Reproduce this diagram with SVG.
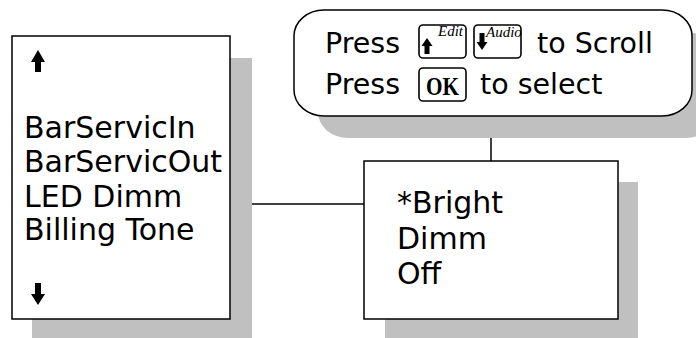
<svg xmlns="http://www.w3.org/2000/svg" width="696" height="338" viewBox="0 0 696 338">
<style>
.shadow{fill:#c0c0c0;stroke:none}
.box{fill:#fff;stroke:#000;stroke-width:1.5}
.key{fill:#fff;stroke:#000;stroke-width:1.6}
.t{font-family:"DejaVu Sans","Verdana",sans-serif;font-size:30px;fill:#000}
.tb{font-family:"DejaVu Sans","Verdana",sans-serif;font-size:28.5px;fill:#000}
.sup{font-family:"Liberation Serif","Times New Roman",serif;font-style:italic;font-size:15px;fill:#000}
.ok{font-family:"Liberation Serif","Times New Roman",serif;font-weight:bold;font-size:25px;fill:#000}
.conn{stroke:#000;stroke-width:1.5;fill:none}
.arr{fill:#000}
</style>
<rect x="0" y="0" width="696" height="338" fill="#fff"/>
<g id="connectors">
<line class="conn" x1="230" y1="204" x2="364" y2="204"/>
<line class="conn" x1="491" y1="116" x2="491" y2="161"/>
</g>
<g id="menu-list">
<rect class="shadow" x="32" y="58" width="220" height="280"/>
<rect class="box" x="12" y="36" width="218" height="283"/>
<polygon class="arr" points="38,50 45,62 41,62 41,72 35,72 35,62 31,62"/>
<text class="t" x="24" y="138">BarServicIn</text>
<text class="t" x="24" y="172">BarServicOut</text>
<text class="t" x="24" y="207">LED Dimm</text>
<text class="t" x="24" y="240">Billing Tone</text>
<polygon class="arr" points="38,305 45,294 41,294 41,283 35,283 35,294 31,294"/>
</g>
<g id="hint-bubble">
<rect class="shadow" x="318" y="32" width="398" height="106" rx="30" ry="26"/>
<rect class="box" x="294" y="10" width="398" height="106" rx="30" ry="26"/>
<text class="tb" x="325" y="53">Press</text>
<rect class="key" x="419" y="25" width="47" height="33" rx="4"/>
<polygon class="arr" points="427,38 432.5,46 429.5,46 429.5,54 424.5,54 424.5,46 421.5,46"/>
<text class="sup" x="438" y="36">Edit</text>
<rect class="key" x="474" y="25" width="47" height="33" rx="4"/>
<polygon class="arr" points="482,50 487.5,42 484.5,42 484.5,33 479.5,33 479.5,42 476.5,42"/>
<text class="sup" x="486" y="37">Audio</text>
<text class="tb" x="537" y="53">to Scroll</text>
<text class="tb" x="325" y="94">Press</text>
<rect class="key" x="419" y="68" width="47" height="33" rx="4"/>
<text class="ok" x="426" y="95" textLength="33" lengthAdjust="spacingAndGlyphs">OK</text>
<text class="tb" x="480" y="94">to select</text>
</g>
<g id="options">
<rect class="shadow" x="385" y="182" width="253" height="156"/>
<rect class="box" x="364" y="161" width="254" height="158"/>
<text class="t" x="397" y="213">*Bright</text>
<text class="t" x="397" y="249">Dimm</text>
<text class="t" x="397" y="284">Off</text>
</g>
</svg>
